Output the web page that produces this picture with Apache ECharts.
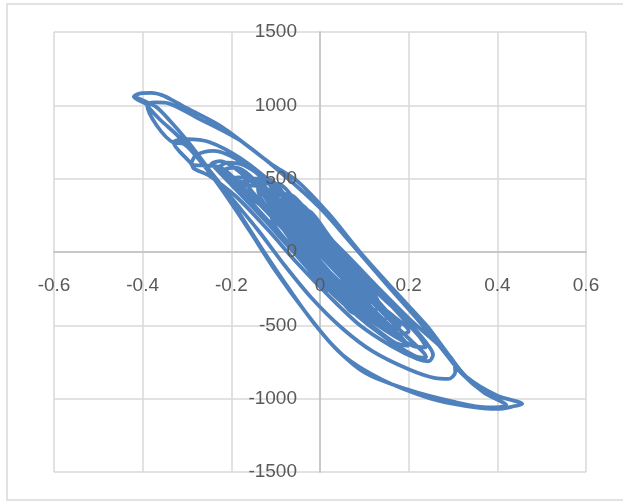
<!DOCTYPE html>
<html>
<head>
<meta charset="utf-8">
<script src="https://cdn.jsdelivr.net/npm/echarts@6/dist/echarts.min.js"></script>
<style>html,body{margin:0;padding:0;background:#fff}#c{width:623px;height:501px}</style>
</head>
<body>
<div id="c"></div>
<script>
// Axis ticks
const xTicks = [-0.6, -0.4, -0.2, 0, 0.2, 0.4, 0.6];
const yTicks = [-1500, -1000, -500, 0, 500, 1000, 1500];

// Hysteresis cycles: [x, y] pairs
// small central cycles
const smallA = [[-0.07,200],[-0.045,200],[-0.01,90],[0.02,0],[0.045,-120],[0.05,-210],[0.035,-225],[0.0,-140],[-0.035,-20],[-0.06,90],[-0.07,200]];
const smallB = [[-0.04,190],[-0.01,160],[0.03,20],[0.07,-120],[0.08,-200],[0.06,-190],[0.03,-90],[-0.01,50],[-0.04,190]];
const smallC = [[-0.09,290],[-0.06,280],[-0.02,130],[0.03,-30],[0.06,-170],[0.07,-270],[0.055,-290],[0.02,-200],[-0.03,-40],[-0.07,120],[-0.09,290]];
const smallD = [[-0.11,260],[-0.08,250],[-0.04,100],[0.0,-60],[0.03,-200],[0.03,-260],[0.01,-250],[-0.02,-140],[-0.06,20],[-0.1,170],[-0.11,260]];
const smallE = [[-0.05,300],[-0.02,270],[0.02,110],[0.07,-80],[0.11,-240],[0.13,-330],[0.11,-340],[0.07,-220],[0.02,-50],[-0.03,140],[-0.05,300]];
const smallF = [[-0.08,340],[-0.04,320],[0.01,140],[0.06,-40],[0.1,-200],[0.12,-310],[0.1,-330],[0.06,-200],[0.01,-30],[-0.04,150],[-0.08,340]];
const smallG = [[-0.1,330],[-0.07,320],[-0.03,170],[0.02,10],[0.06,-140],[0.09,-260],[0.08,-290],[0.05,-220],[0.0,-70],[-0.05,100],[-0.1,330]];
const smallH = [[-0.06,250],[-0.03,230],[0.01,90],[0.05,-60],[0.1,-230],[0.11,-300],[0.09,-300],[0.05,-180],[0.0,-20],[-0.04,120],[-0.06,250]];
const midA = [[-0.11,360],[-0.07,350],[-0.02,170],[0.03,0],[0.07,-170],[0.09,-300],[0.09,-350],[0.07,-360],[0.03,-250],[-0.02,-80],[-0.07,100],[-0.1,250],[-0.11,360]];
const midB = [[-0.12,390],[-0.08,380],[-0.03,200],[0.03,-20],[0.08,-210],[0.11,-340],[0.1,-380],[0.07,-360],[0.02,-190],[-0.03,0],[-0.08,190],[-0.12,390]];
const midC = [[-0.1,400],[-0.06,380],[-0.01,200],[0.05,-20],[0.1,-220],[0.13,-360],[0.12,-410],[0.09,-390],[0.04,-240],[-0.01,-60],[-0.06,150],[-0.09,300],[-0.1,400]];
const midD = [[-0.14,430],[-0.1,420],[-0.05,250],[0.0,60],[0.05,-130],[0.09,-300],[0.1,-400],[0.08,-420],[0.04,-300],[-0.01,-120],[-0.06,70],[-0.11,260],[-0.14,430]];
const midE = [[-0.13,470],[-0.09,460],[-0.04,280],[0.02,60],[0.08,-170],[0.13,-360],[0.15,-450],[0.13,-470],[0.08,-330],[0.02,-130],[-0.04,80],[-0.09,270],[-0.13,470]];
const midF = [[-0.16,500],[-0.12,500],[-0.06,310],[0.01,60],[0.08,-190],[0.14,-400],[0.17,-500],[0.15,-520],[0.1,-390],[0.03,-170],[-0.03,40],[-0.1,260],[-0.16,500]];
// larger cycles
const cycle19 = [[-0.18,460],[-0.14,450],[-0.08,290],[-0.01,80],[0.06,-140],[0.12,-330],[0.18,-500],[0.17,-530],[0.11,-390],[0.04,-190],[-0.03,20],[-0.1,240],[-0.18,460]];
const cycle7 = [[-0.17,470],[-0.15,490],[-0.1,370],[-0.03,170],[0.04,-50],[0.1,-230],[0.15,-400],[0.175,-490],[0.16,-510],[0.1,-400],[0.03,-210],[-0.04,10],[-0.1,220],[-0.15,400],[-0.17,470]];
const cycle11 = [[-0.2,500],[-0.17,510],[-0.11,340],[-0.03,90],[0.05,-160],[0.12,-390],[0.18,-570],[0.2,-640],[0.17,-620],[0.1,-460],[0.02,-240],[-0.06,0],[-0.13,240],[-0.2,500]];
const cycle6 = [[-0.215,560],[-0.19,575],[-0.14,470],[-0.07,270],[0.01,20],[0.08,-200],[0.15,-400],[0.2,-540],[0.18,-560],[0.12,-450],[0.05,-260],[-0.03,-20],[-0.1,210],[-0.17,430],[-0.215,560]];
const cycle12 = [[-0.245,600],[-0.225,620],[-0.17,520],[-0.1,330],[-0.02,90],[0.06,-160],[0.13,-380],[0.19,-560],[0.235,-690],[0.24,-720],[0.215,-710],[0.15,-590],[0.07,-400],[-0.01,-170],[-0.08,70],[-0.15,300],[-0.21,490],[-0.245,600]];
const cycle5 = [[-0.23,580],[-0.21,610],[-0.17,590],[-0.1,440],[-0.03,230],[0.05,0],[0.12,-230],[0.18,-430],[0.225,-580],[0.24,-650],[0.21,-640],[0.15,-540],[0.08,-380],[0.0,-160],[-0.07,60],[-0.14,290],[-0.2,480],[-0.23,580]];
const cycle4 = [[-0.29,600],[-0.28,660],[-0.24,690],[-0.17,600],[-0.1,420],[-0.02,190],[0.06,-60],[0.13,-280],[0.2,-480],[0.24,-620],[0.255,-700],[0.245,-745],[0.22,-730],[0.16,-640],[0.09,-500],[0.02,-300],[-0.05,-80],[-0.12,160],[-0.19,380],[-0.25,520],[-0.285,570],[-0.29,600]];
const cycle3 = [[-0.33,745],[-0.30,770],[-0.25,750],[-0.18,640],[-0.1,450],[-0.02,220],[0.06,-20],[0.14,-270],[0.21,-480],[0.27,-640],[0.30,-740],[0.305,-820],[0.29,-865],[0.26,-860],[0.2,-800],[0.12,-680],[0.05,-520],[-0.02,-310],[-0.08,-90],[-0.14,150],[-0.2,370],[-0.25,560],[-0.29,690],[-0.31,740],[-0.33,745]];
const cycle2 = [[-0.39,1005],[-0.37,1020],[-0.34,1012],[-0.28,920],[-0.18,760],[-0.08,520],[0.0,300],[0.07,60],[0.15,-220],[0.22,-460],[0.28,-680],[0.32,-830],[0.37,-960],[0.42,-1045],[0.38,-1060],[0.30,-1020],[0.20,-940],[0.10,-820],[0.03,-640],[-0.03,-420],[-0.1,-130],[-0.16,150],[-0.22,420],[-0.27,620],[-0.32,790],[-0.36,900],[-0.385,980],[-0.39,1005]];
const cycle1 = [[-0.42,1058],[-0.405,1082],[-0.38,1085],[-0.355,1068],[-0.33,1030],[-0.30,980],[-0.22,850],[-0.11,600],[-0.05,480],[0.02,260],[0.09,0],[0.17,-270],[0.24,-500],[0.29,-700],[0.33,-850],[0.40,-980],[0.456,-1036],[0.44,-1050],[0.40,-1070],[0.33,-1050],[0.25,-1000],[0.14,-870],[0.05,-700],[-0.01,-500],[-0.07,-250],[-0.126,0],[-0.19,300],[-0.25,560],[-0.30,760],[-0.34,900],[-0.37,990],[-0.40,1035],[-0.42,1058]];

const pathData = [].concat(smallA, smallB, smallH, smallC, smallD, smallG, smallE, smallF, midA, midB, midC, midD, midE, midF,
  cycle19, cycle7, cycle11, cycle6, cycle12, cycle5, cycle4, cycle3, cycle2, cycle1);

const W = 623, H = 501;
const gridL = 54, gridR = 37, gridT = 32, gridB = 29;
const plotW = W - gridL - gridR, plotH = H - gridT - gridB;
// offsets to put the axes (with their labels) on the zero lines
const xAxisOffset = -plotH * (0 - yTicks[0]) / (yTicks[yTicks.length-1] - yTicks[0]);
const yAxisOffset = -plotW * (0 - xTicks[0]) / (xTicks[xTicks.length-1] - xTicks[0]);

const chart = echarts.init(document.getElementById('c'));
const labelFont = {fontFamily: 'Liberation Sans, Arial, sans-serif', fontSize: 19, color: '#595959'};
const xBase = {type: 'value', min: xTicks[0], max: xTicks[xTicks.length-1], interval: 0.2, position: 'bottom', offset: xAxisOffset, axisTick: {show: false}};
const yBase = {type: 'value', min: yTicks[0], max: yTicks[yTicks.length-1], interval: 500, position: 'left', offset: yAxisOffset, axisTick: {show: false}};
chart.setOption({
  animation: false,
  backgroundColor: '#ffffff',
  graphic: [{type: 'rect', shape: {x: 7, y: 4, width: 620, height: 496}, style: {fill: 'none', stroke: '#d9d9d9', lineWidth: 1.5}, z: -10}],
  grid: {left: gridL, right: gridR, top: gridT, bottom: gridB, containLabel: false, outerBoundsMode: 'none'},
  xAxis: [
    Object.assign({}, xBase, {
      axisLine: {onZero: false, lineStyle: {color: '#bfbfbf', width: 1.5}},
      splitLine: {lineStyle: {color: '#d9d9d9', width: 1.5}},
      axisLabel: {show: false}
    }),
    Object.assign({}, xBase, {
      z: 10, axisLine: {show: false}, splitLine: {show: false},
      axisLabel: Object.assign({margin: 24, formatter: v => String(Math.round(v*10)/10)}, labelFont)
    })
  ],
  yAxis: [
    Object.assign({}, yBase, {
      axisLine: {onZero: false, lineStyle: {color: '#bfbfbf', width: 1.5}},
      splitLine: {lineStyle: {color: '#d9d9d9', width: 1.5}},
      axisLabel: {show: false}
    }),
    Object.assign({}, yBase, {
      z: 10, axisLine: {show: false}, splitLine: {show: false},
      axisLabel: Object.assign({margin: 23, formatter: v => String(v)}, labelFont)
    })
  ],
  series: [{
    type: 'line', data: pathData, xAxisIndex: 0, yAxisIndex: 0, showSymbol: false, smooth: 0.3,
    lineStyle: {color: '#4f81bd', width: 3.8}, z: 3
  }]
});
</script>
</body>
</html>
